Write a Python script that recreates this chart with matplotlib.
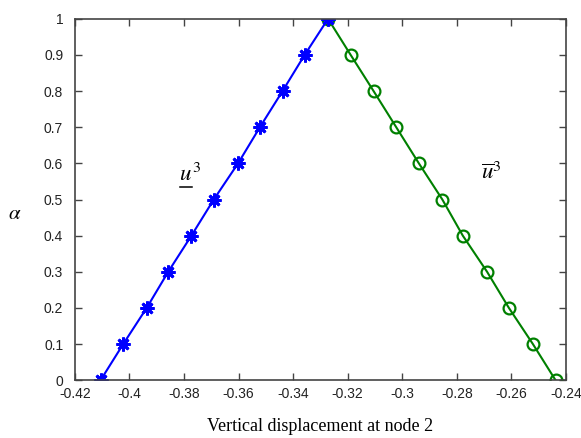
import matplotlib
matplotlib.use("Agg")
import matplotlib.pyplot as plt
from matplotlib.lines import Line2D

alpha = [0.0, 0.1, 0.2, 0.3, 0.4, 0.5, 0.6, 0.7, 0.8, 0.9, 1.0]
u_lower = [-0.4106, -0.4023, -0.3937, -0.3858, -0.3773, -0.3691, -0.3602, -0.3522, -0.3439, -0.3358, -0.3272]
u_upper = [-0.2438, -0.2521, -0.2609, -0.2689, -0.2778, -0.2853, -0.2939, -0.3022, -0.3105, -0.3189, -0.3272]
xticks = [-0.42, -0.40, -0.38, -0.36, -0.34, -0.32, -0.30, -0.28, -0.26, -0.24]
xticklabels = ["-0.42", "-0.4", "-0.38", "-0.36", "-0.34", "-0.32", "-0.3", "-0.28", "-0.26", "-0.24"]
yticks = [0, 0.1, 0.2, 0.3, 0.4, 0.5, 0.6, 0.7, 0.8, 0.9, 1.0]
yticklabels = ["0", "0.1", "0.2", "0.3", "0.4", "0.5", "0.6", "0.7", "0.8", "0.9", "1"]

plt.rcParams['mathtext.fontset'] = 'stix'

fig = plt.figure(figsize=(5.81, 4.38), dpi=100)
ax = fig.add_axes([0.129, 0.132, 0.845, 0.825])

ax.plot(u_upper, alpha, color='#008000', lw=1.5, marker='o', markersize=8.5,
        markerfacecolor='none', markeredgewidth=1.6)
ax.plot(u_lower, alpha, color='#0000ff', lw=1.5, marker=(8, 2, 0), markersize=10,
        markeredgewidth=2.0)

ax.set_xlim(-0.42, -0.24)
ax.set_ylim(0, 1)
ax.set_xticks(xticks)
ax.set_xticklabels(xticklabels)
ax.set_yticks(yticks)
ax.set_yticklabels(yticklabels)
ax.tick_params(direction='in', top=True, right=True, length=5, width=1,
               color='#444444', labelsize=10, labelcolor='#222222')
ax.tick_params(axis='x', pad=5)
ax.tick_params(axis='y', pad=8.5)
for lbl in ax.get_xticklabels() + ax.get_yticklabels():
    lbl.set_family('Liberation Sans')
for s in ax.spines.values():
    s.set_color('#444444')
    s.set_linewidth(1.2)

ax.set_xlabel('Vertical displacement at node 2', family='Liberation Serif', fontsize=13, labelpad=12)
fig.text(0.025, 0.513, r'$\alpha$', fontsize=15, ha='center', va='center')

t1 = ax.text(-0.3818, 0.57, r'$u^3$', fontsize=16.5, ha='left', va='center')
ax.text(-0.2712, 0.575, r'$\overline{u}^3$', fontsize=16.5, ha='left', va='center')

# underline for the lower bound symbol
fig.canvas.draw()
r = fig.canvas.get_renderer()
tu = ax.text(-0.3818, 0.57, r'$u$', fontsize=16.5, ha='left', va='center', alpha=0)
bbu = tu.get_window_extent(r)
y0 = bbu.y0 - 1
line = Line2D([bbu.x0 + 1, bbu.x1], [y0, y0], transform=None, color='black', lw=1.1)
fig.add_artist(line)

fig.savefig('out.png', dpi=100)
